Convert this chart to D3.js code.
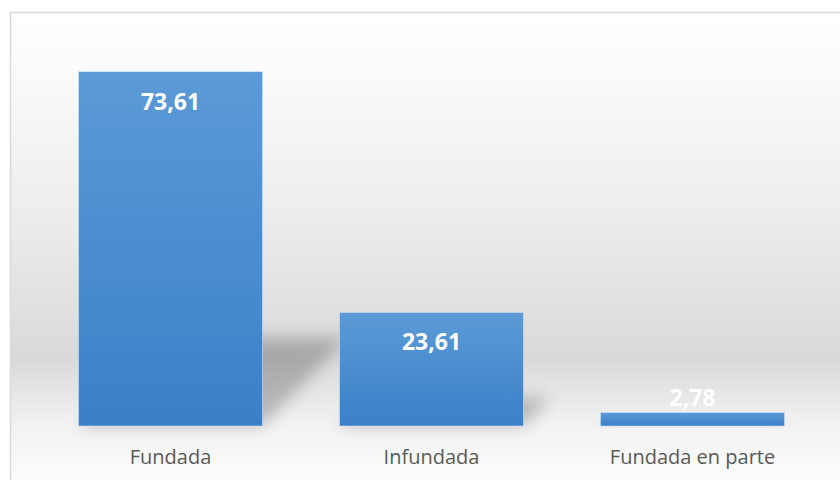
<!DOCTYPE html>
<html><head><meta charset="utf-8">
<script src="https://cdn.jsdelivr.net/npm/d3@7"></script>
<style>body{margin:0;background:#fff}svg{display:block}</style>
</head><body>
<script>
const categories = ["Fundada", "Infundada", "Fundada en parte"];
const values = [73.61, 23.61, 2.78];
const valueLabels = ["73,61", "23,61", "2,78"];

const W = 840, H = 480;
const svg = d3.select("body").append("svg").attr("width", W).attr("height", H);
const defs = svg.append("defs");

const bg = defs.append("linearGradient").attr("id","bg").attr("x1",0).attr("y1",0).attr("x2",0).attr("y2",1);
[[0,"#ffffff"],[0.12,"#fbfbfb"],[0.45,"#ebebeb"],[0.72,"#d9d9d9"],[0.86,"#f2f2f2"],[1,"#ffffff"]]
  .forEach(([o,c])=>bg.append("stop").attr("offset",o).attr("stop-color",c));

const bar = defs.append("linearGradient").attr("id","bar").attr("x1",0).attr("y1",0).attr("x2",0).attr("y2",1);
bar.append("stop").attr("offset",0).attr("stop-color","#5b9ad6");
bar.append("stop").attr("offset",1).attr("stop-color","#3a80c9");

const blur = defs.append("filter").attr("id","blur").attr("x","-50%").attr("y","-50%").attr("width","200%").attr("height","200%");
blur.append("feGaussianBlur").attr("stdDeviation",8);

svg.append("rect").attr("x",10.5).attr("y",12.5).attr("width",W).attr("height",H)
  .attr("fill","url(#bg)").attr("stroke","#d9d9d9").attr("stroke-width",1.5);

const x = d3.scaleBand().domain(categories).range([40, 823]).paddingInner(0.295).paddingOuter(0.1475);
const y = d3.scaleLinear().domain([0, 80]).range([426, 41]);

const data = categories.map((c,i)=>({c, v: values[i], l: valueLabels[i]}));

// shadows
svg.append("g").selectAll("path").data(data).join("path")
  .attr("d", d=>{
    const x0 = x(d.c), x1 = x0 + x.bandwidth(), b = y(0), h = b - y(d.v);
    const dy = h*0.25, dx = h*0.24;
    return `M${x0},${b} L${x1},${b} L${x1+dx},${b-dy} L${x0+dx},${b-dy} Z`;
  })
  .attr("fill","#000").attr("opacity",0.22).attr("filter","url(#blur)");

svg.append("g").selectAll("rect").data(data).join("rect")
  .attr("x", d=>x(d.c)).attr("y", d=>y(d.v))
  .attr("width", x.bandwidth()).attr("height", d=>y(0)-y(d.v))
  .attr("fill","url(#bar)").attr("stroke","#cfe2f5").attr("stroke-width",0.6);

svg.append("g").selectAll("text").data(data).join("text")
  .attr("x", d=>x(d.c)+x.bandwidth()/2)
  .attr("y", d=> (y(0)-y(d.v) > 40) ? y(d.v)+38 : y(d.v)-7)
  .attr("text-anchor","middle")
  .attr("font-family","'Open Sans', sans-serif").attr("font-weight","bold").attr("font-size",23)
  .attr("fill","#ffffff").text(d=>d.l);

const xAxis = svg.append("g").attr("transform",`translate(0,${y(0)})`)
  .call(d3.axisBottom(x).tickSize(0).tickPadding(24));
xAxis.select(".domain").remove();
xAxis.selectAll("text").attr("font-family","'Open Sans', sans-serif").attr("font-size",20)
  .attr("fill","#595959").attr("dy","0.71em");
</script>
</body></html>
